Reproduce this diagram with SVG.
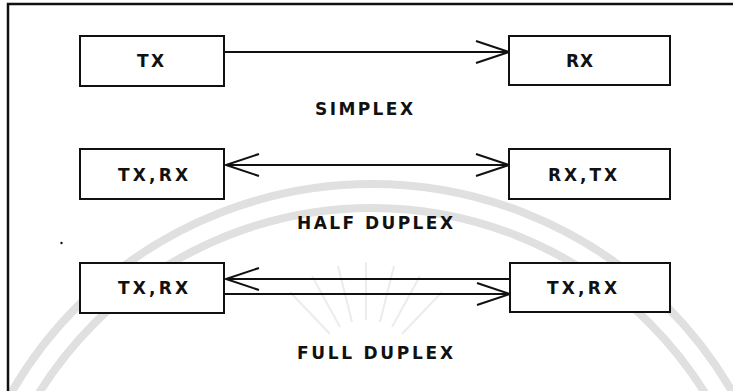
<svg xmlns="http://www.w3.org/2000/svg" width="733" height="391" viewBox="0 0 733 391">
  <style>
    .box { fill: #ffffff; stroke: #111111; stroke-width: 2; }
    .lbl { font-family: "DejaVu Sans", "Liberation Sans", sans-serif; font-size: 17px; font-weight: bold; fill: #111111; }
    .wire { fill: none; stroke: #111111; stroke-width: 2; }
    .mark { fill: none; stroke: #e0e0e0; stroke-width: 8; }
    .ray { stroke: #ececec; stroke-width: 2; }
  </style>
  <defs>
    <marker id="vee" markerUnits="userSpaceOnUse" markerWidth="40" markerHeight="30" viewBox="-36 -14 40 28" refX="0" refY="0" orient="auto-start-reverse">
      <path d="M-33,-11 L0,0 L-33,11" fill="none" stroke="#111111" stroke-width="2"/>
    </marker>
  </defs>

  <rect width="733" height="391" fill="#ffffff"/>

  <!-- faint background emblem -->
  <g id="emblem">
    <circle class="mark" cx="372" cy="600" r="416"/>
    <circle class="mark" cx="372" cy="600" r="392"/>
    <g class="ray">
      <line x1="366" y1="320" x2="366" y2="262"/>
      <line x1="352" y1="322" x2="338" y2="266"/>
      <line x1="380" y1="322" x2="394" y2="266"/>
      <line x1="340" y1="327" x2="312" y2="276"/>
      <line x1="392" y1="327" x2="420" y2="276"/>
      <line x1="330" y1="334" x2="290" y2="292"/>
      <line x1="402" y1="334" x2="442" y2="292"/>
    </g>
  </g>

  <!-- outer frame -->
  <path d="M8,391 V4 H733" fill="none" stroke="#111111" stroke-width="2.5"/>
  <circle cx="61.5" cy="243" r="1.2" fill="#111111"/>

  <!-- connectors -->
  <g id="connectors">
    <line class="wire" x1="224" y1="52" x2="509" y2="52" marker-end="url(#vee)"/>
    <line class="wire" x1="226" y1="165" x2="509" y2="165" marker-start="url(#vee)" marker-end="url(#vee)"/>
    <line class="wire" x1="226" y1="279" x2="510" y2="279" marker-start="url(#vee)"/>
    <line class="wire" x1="224" y1="294" x2="510" y2="294" marker-end="url(#vee)"/>
  </g>

  <!-- simplex -->
  <g id="tx1">
    <rect class="box" x="80" y="36" width="144" height="50"/>
    <text class="lbl" x="137" y="67" textLength="27" lengthAdjust="spacing">TX</text>
  </g>
  <g id="rx1">
    <rect class="box" x="509" y="36" width="161" height="49"/>
    <text class="lbl" x="566" y="67" textLength="27" lengthAdjust="spacing">RX</text>
  </g>
  <text id="simplex" class="lbl" x="315" y="115" textLength="98" lengthAdjust="spacing">SIMPLEX</text>

  <!-- half duplex -->
  <g id="txrx2">
    <rect class="box" x="80" y="149" width="144" height="50"/>
    <text class="lbl" x="118" y="181" textLength="70" lengthAdjust="spacing">TX,RX</text>
  </g>
  <g id="rxtx2">
    <rect class="box" x="509" y="149" width="161" height="50"/>
    <text class="lbl" x="548" y="181" textLength="69" lengthAdjust="spacing">RX,TX</text>
  </g>
  <text id="halfduplex" class="lbl" x="297" y="229" textLength="156" lengthAdjust="spacing">HALF DUPLEX</text>

  <!-- full duplex -->
  <g id="txrx3a">
    <rect class="box" x="80" y="263" width="144" height="50"/>
    <text class="lbl" x="118" y="294" textLength="70" lengthAdjust="spacing">TX,RX</text>
  </g>
  <g id="txrx3b">
    <rect class="box" x="510" y="263" width="160" height="49"/>
    <text class="lbl" x="547" y="294" textLength="70" lengthAdjust="spacing">TX,RX</text>
  </g>
  <text id="fullduplex" class="lbl" x="297" y="359" textLength="156" lengthAdjust="spacing">FULL DUPLEX</text>
</svg>
